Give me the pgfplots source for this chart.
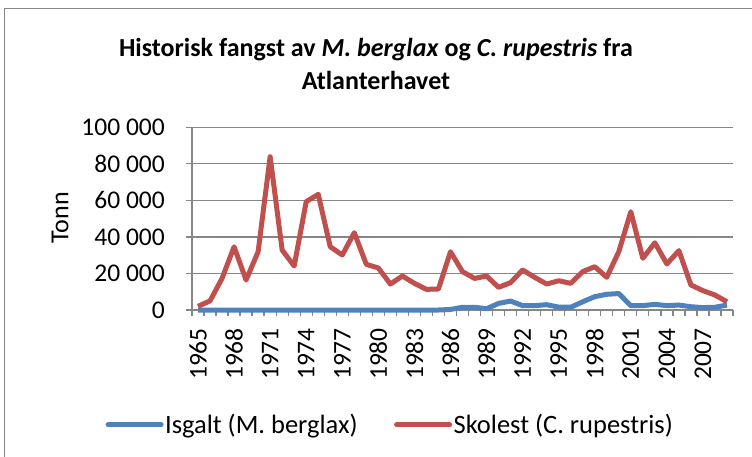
\documentclass[border=0pt]{standalone}
\usepackage{fontspec}
\setmainfont{Carlito}
\usepackage{pgfplots}
\usepackage{pgfplotstable}
\pgfplotsset{compat=1.18}

\definecolor{isgalt}{HTML}{4F81BD}
\definecolor{skolest}{HTML}{C0504D}
\definecolor{gridc}{HTML}{868686}

% catch in tonnes
\pgfplotstableread{
year isgalt skolest
1965 0 2000
1966 0 5000
1967 0 17300
1968 0 34600
1969 0 16400
1970 0 31900
1971 0 83900
1972 0 32800
1973 0 24100
1974 0 59300
1975 0 63300
1976 0 34600
1977 0 30100
1978 0 42300
1979 0 25000
1980 0 23000
1981 0 14200
1982 0 18600
1983 0 14600
1984 0 11300
1985 0 11500
1986 300 31900
1987 1500 21000
1988 1500 17300
1989 700 18600
1990 3600 12400
1991 4900 15000
1992 2400 21900
1993 2400 17900
1994 2900 14200
1995 1600 16000
1996 1500 14600
1997 4500 21000
1998 7300 23700
1999 8600 17900
2000 9000 31900
2001 2400 53800
2002 2400 28300
2003 3100 36800
2004 2400 25200
2005 2700 32500
2006 1800 13700
2007 1300 10600
2008 1500 8200
2009 2700 4500
}\catch

\begin{document}
\begin{tikzpicture}[x=1pt,y=1pt]
\path[use as bounding box] (0,0) rectangle (752,456);
\draw[gridc, line width=1.3pt] (4.5,-2) |- (756,447.5);
\node[font=\fontsize{26}{33}\selectfont\bfseries, align=center] at (376,392)
  {Historisk fangst av \textit{M. berglax} og \textit{C. rupestris} fra\\Atlanterhavet};
\node[rotate=90, font=\fontsize{26}{31}\selectfont] at (60,238) {Tonn};
\begin{axis}[
  at={(192pt,146pt)}, anchor=south west,
  width=541pt, height=182.7pt, scale only axis,
  xmin=1964.5, xmax=2009.5, ymin=0, ymax=100000,
  clip=false, scaled y ticks=false,
  axis x line*=bottom, axis y line*=left,
  axis line style={-, gridc, line width=1.3pt},
  tick style={gridc, line width=1.3pt},
  tick align=outside, major tick length=6pt,
  ymajorgrids, grid style={gridc, line width=1.3pt},
  ytick={0,20000,40000,60000,80000,100000},
  yticklabels={0,20 000,40 000,60 000,80 000,100 000},
  xtick={1964.5,1965.5,...,2009.5}, xticklabels={},
  extra x ticks={1965,1968,...,2007},
  extra x tick labels={1965,1968,1971,1974,1977,1980,1983,1986,1989,1992,1995,1998,2001,2004,2007},
  extra x tick style={major tick length=0pt, grid=none,
    tick label style={yshift=-18pt, rotate=90, anchor=east, inner sep=0pt}},
  every tick label/.append style={font=\fontsize{25.5}{30}\selectfont},
  yticklabel style={anchor=east, inner sep=0pt, xshift=-21pt},
  legend columns=2,
  legend style={at={(0.366,-0.629)}, anchor=center, draw=none, fill=none,
    font=\fontsize{26.5}{31}\selectfont, nodes={inner sep=1.5pt},
    /tikz/every even column/.append style={column sep=35pt}},
  legend image code/.code={\draw[#1, line cap=round] (0pt,0pt) -- (53pt,0pt);},
  every axis plot/.append style={line width=5pt, line join=round},
]
\addplot[isgalt] table[x=year, y=isgalt] {\catch};
\addlegendentry{Isgalt (M. berglax)}
\addplot[skolest] table[x=year, y=skolest] {\catch};
\addlegendentry{Skolest (C. rupestris)}
\end{axis}
\end{tikzpicture}
\end{document}
